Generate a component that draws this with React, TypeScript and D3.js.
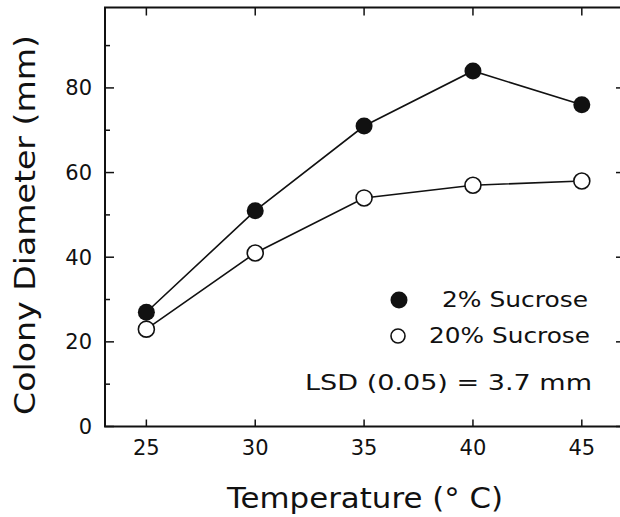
import React from "react";
import * as d3 from "d3";

// temperatures (°C) and colony diameters (mm)
const temps = [25, 30, 35, 40, 45];
const sucrose2 = [27, 51, 71, 84, 76];
const sucrose20 = [23, 41, 54, 57, 58];
const yMajor = [0, 20, 40, 60, 80];
const yMinor = [10, 30, 50, 70, 90];

const W = 620;
const H = 517;
const FONT = "'DejaVu Sans', sans-serif";

const App = () => {
  const x = d3.scaleLinear().domain([23.1, 46.8]).range([105, 621]);
  const y = d3.scaleLinear().domain([0, 99]).range([426.5, 7.5]);

  const [x0, x1] = x.range();
  const [y0, y1] = y.range();

  const line = d3
    .line<number>()
    .x((_, i) => x(temps[i]))
    .y((d) => y(d));

  return (
    <svg
      width={W}
      height={H}
      style={{ position: "absolute", left: 0, top: 0, background: "#fff" }}
    >
      {/* frame */}
      <rect
        x={x0}
        y={y1}
        width={x1 - x0}
        height={y0 - y1}
        fill="none"
        stroke="#111"
        strokeWidth={2}
      />

      {/* left / right ticks */}
      {yMajor.map((v) => (
        <g key={"ly" + v}>
          <line x1={x0} x2={x0 + 9} y1={y(v)} y2={y(v)} stroke="#111" strokeWidth={1.5} />
          <line x1={x1} x2={x1 - 5} y1={y(v)} y2={y(v)} stroke="#111" strokeWidth={1.5} />
          <text
            x={x0 - 13}
            y={y(v)}
            dy="0.36em"
            textAnchor="end"
            fontFamily={FONT}
            fontSize={21}
            fill="#111"
          >
            {v}
          </text>
        </g>
      ))}
      {yMinor.map((v) => (
        <line key={"my" + v} x1={x0} x2={x0 + 5} y1={y(v)} y2={y(v)} stroke="#111" strokeWidth={1.5} />
      ))}

      {/* x ticks */}
      {temps.map((t) => (
        <g key={"xt" + t}>
          <line x1={x(t)} x2={x(t)} y1={y0} y2={y0 - 7} stroke="#111" strokeWidth={1.5} />
          <line x1={x(t)} x2={x(t)} y1={y1} y2={y1 + 8} stroke="#111" strokeWidth={1.5} />
          <text
            x={x(t)}
            y={455}
            textAnchor="middle"
            fontFamily={FONT}
            fontSize={21}
            fill="#111"
          >
            {t}
          </text>
        </g>
      ))}

      {/* axis titles */}
      <text
        x={227}
        y={508}
        fontFamily={FONT}
        fontSize={28}
        textLength={276}
        lengthAdjust="spacingAndGlyphs"
        fill="#111"
      >
        Temperature (° C)
      </text>
      <text
        transform="translate(35,415) rotate(-90)"
        fontFamily={FONT}
        fontSize={28}
        textLength={380}
        lengthAdjust="spacingAndGlyphs"
        fill="#111"
      >
        Colony Diameter (mm)
      </text>

      {/* series */}
      <path d={line(sucrose2) ?? ""} fill="none" stroke="#111" strokeWidth={1.6} />
      <path d={line(sucrose20) ?? ""} fill="none" stroke="#111" strokeWidth={1.6} />
      {sucrose20.map((v, i) => (
        <circle key={"o" + i} cx={x(temps[i])} cy={y(v)} r={8} fill="#fff" stroke="#111" strokeWidth={1.6} />
      ))}
      {sucrose2.map((v, i) => (
        <circle key={"f" + i} cx={x(temps[i])} cy={y(v)} r={8.5} fill="#111" />
      ))}

      {/* legend */}
      <circle cx={399} cy={300} r={8.5} fill="#111" />
      <text x={442} y={307} fontFamily={FONT} fontSize={21} textLength={146} lengthAdjust="spacingAndGlyphs" fill="#111">
        2% Sucrose
      </text>
      <circle cx={398} cy={336} r={7} fill="#fff" stroke="#111" strokeWidth={1.6} />
      <text x={429} y={343} fontFamily={FONT} fontSize={21} textLength={161} lengthAdjust="spacingAndGlyphs" fill="#111">
        20% Sucrose
      </text>
      <text x={305} y={390} fontFamily={FONT} fontSize={21} textLength={287} lengthAdjust="spacingAndGlyphs" fill="#111">
        LSD (0.05) = 3.7 mm
      </text>
    </svg>
  );
};

export default App;
